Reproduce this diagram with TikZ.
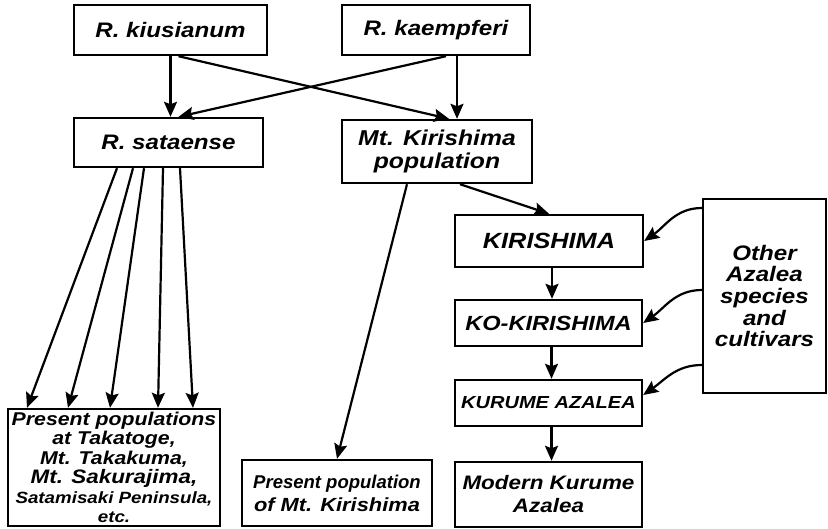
\documentclass[tikz,border=0pt]{standalone}
\usepackage{fontspec}
\setmainfont{Liberation Sans}[FakeStretch=1.15]
\newfontfamily\plainsans{Liberation Sans}
\usetikzlibrary{arrows.meta}
\newcommand{\boxsize}[2]{\fontsize{#1}{#2}\selectfont}

\begin{document}
\begin{tikzpicture}[x=1pt, y=-1pt,
    box/.style={draw, line width=2.4pt, inner sep=0pt, align=center},
    link/.style={line width=2.2pt, -{Stealth[length=15pt,width=13pt,inset=2.5pt]}},
    ]
    \useasboundingbox (0,0) rectangle (828,528);

    % parent species
    \node[box, minimum width=193pt, minimum height=50pt, font=\bfseries\itshape\boxsize{21}{24}] (kius) at (170.5,30) {R. kiusianum};
    \node[box, minimum width=188pt, minimum height=50pt, font=\bfseries\itshape\boxsize{21}{24}] (kaem) at (436,30) {R. kaempferi};

    % hybrids
    \node[box, minimum width=189pt, minimum height=49pt, font=\bfseries\itshape\boxsize{21}{24}] (sata) at (168.5,142.5) {R. sataense};
    \node[box, minimum width=190pt, minimum height=63pt, font=\bfseries\itshape\boxsize{21.5}{23}] (mtkpop) at (437,151.5) {Mt. Kirishima\\ population};

    % cultivar line
    \node[box, minimum width=188pt, minimum height=52pt, font=\bfseries\itshape\boxsize{22}{24}] (kiri) at (549,241) {KIRISHIMA};
    \node[box, minimum width=187pt, minimum height=46pt, font=\bfseries\itshape\boxsize{20.5}{23}] (kokiri) at (548.5,323) {KO-KIRISHIMA};
    \node[box, minimum width=187pt, minimum height=46pt, font=\bfseries\itshape\boxsize{17.4}{20}] (kurume) at (548.5,403) {KURUME AZALEA};
    \node[box, minimum width=187pt, minimum height=65pt, font=\bfseries\itshape\boxsize{19.5}{23}] (modern) at (548.5,494.5) {Modern Kurume\\ Azalea};
    \node[box, minimum width=123pt, minimum height=194pt, font=\bfseries\itshape\boxsize{21}{21.7}] (other) at (764.5,296) {Other\\ Azalea\\ species\\ and\\ cultivars};

    % present populations
    \node[box, minimum width=212pt, minimum height=117pt, font=\bfseries\itshape\boxsize{18.5}{19.5}] (prespops) at (114,467.5) {Present populations\\ at Takatoge,\\ Mt. Takakuma,\\ {\boxsize{19.5}{19.5}Mt. Sakurajima,}\\ {\boxsize{16.3}{19.5}Satamisaki Peninsula,}\\ {\boxsize{16.3}{19.5}etc.}};
    \node[box, minimum width=190pt, minimum height=66pt, font=\bfseries\itshape\boxsize{19}{23}] (presmtk) at (337,493) {{\plainsans\boxsize{18.5}{23}Present population}\\ of Mt. Kirishima};

    \draw[link] (kius.south) -- (kius.south |- sata.north);
    \draw[link] ([xshift=8pt]kius.south) -- ([xshift=12pt]mtkpop.north);
    \draw[link] ([xshift=10pt]kaem.south) -- ([xshift=10pt]sata.north);
    \draw[link] ([xshift=21pt]kaem.south) -- ([xshift=21pt]kaem.south |- mtkpop.north);

    \foreach \a/\b in {-51.5/-87, -35.5/-46, -24.5/-4, -5.5/44, 11.5/79}
        \draw[link] ([xshift=\a pt]sata.south) -- ([xshift=\b pt]prespops.north);

    \draw[link] ([xshift=-30pt]mtkpop.south) -- (presmtk.north);
    \draw[link] ([xshift=23pt]mtkpop.south) -- (kiri.north);

    \draw[link] ([xshift=3pt]kiri.south) -- ([xshift=3pt]kiri.south |- kokiri.north);
    \draw[link] ([xshift=3pt]kokiri.south) -- ([xshift=3pt]kokiri.south |- kurume.north);
    \draw[link] ([xshift=3pt]kurume.south) -- ([xshift=3pt]kurume.south |- modern.north);

    \draw[link] ([yshift=88pt]other.west) to[out=180, in=35] (kiri.east);
    \draw[link] ([yshift=6pt]other.west) to[out=180, in=35] (kokiri.east);
    \draw[link] ([yshift=-69pt]other.west) to[out=180, in=35] ([yshift=8pt]kurume.east);

\end{tikzpicture}
\end{document}
